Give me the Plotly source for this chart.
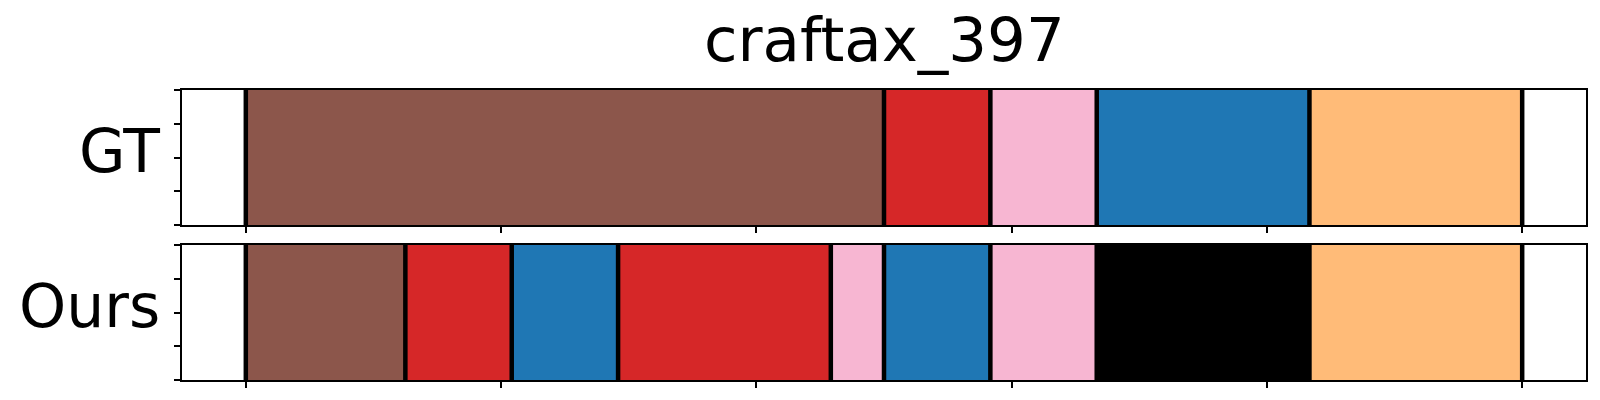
import plotly.graph_objects as go
from plotly.subplots import make_subplots

title = "craftax_397"
row_labels = ["GT", "Ours"]

# segment boundaries (frames) and the class of each segment
gt_bounds = [0, 60, 70, 80, 100, 120]
gt_classes = ["c5", "c3", "c6", "c0", "c1"]
ours_bounds = [0, 15, 25, 35, 55, 60, 70, 80, 100, 120]
ours_classes = ["c5", "c3", "c0", "c3", "c6", "c0", "c6", "bg", "c1"]
x_ticks = [0, 24, 48, 72, 96, 120]
y_ticks = [0, 0.25, 0.5, 0.75, 1.0]

palette = {
    "c0": "#1f77b4",
    "c1": "#ffbb78",
    "c3": "#d62728",
    "c5": "#8c564b",
    "c6": "#f7b6d2",
    "bg": "#000000",
}

# page body has an 8px margin, so the figure is a bit smaller than the window
W, H = 1592, 392
L, R, T, B = 174, 14, 82, 20
gap = 20
plot_h = H - T - B
sub_h = (plot_h - gap) / 2

fig = make_subplots(rows=2, cols=1, shared_xaxes=False, vertical_spacing=gap / plot_h)

rows = [(gt_bounds, gt_classes), (ours_bounds, ours_classes)]
for r, (bounds, classes) in enumerate(rows, start=1):
    for i, cls in enumerate(classes):
        fig.add_trace(
            go.Bar(
                orientation="h",
                y=[0.5],
                x=[bounds[i + 1] - bounds[i]],
                base=[bounds[i]],
                width=[1.0],
                marker=dict(color=palette[cls], line=dict(width=0)),
                showlegend=False,
                hoverinfo="skip",
            ),
            row=r,
            col=1,
        )
    for b in bounds:
        fig.add_trace(
            go.Scatter(
                x=[b, b],
                y=[0, 1],
                mode="lines",
                line=dict(color="black", width=4.5),
                showlegend=False,
                hoverinfo="skip",
            ),
            row=r,
            col=1,
        )

axis_common = dict(
    showline=True,
    mirror=True,
    linecolor="black",
    linewidth=1.5,
    ticks="outside",
    ticklen=6,
    tickwidth=1.5,
    tickcolor="black",
    showticklabels=False,
    showgrid=False,
    zeroline=False,
)
for r in (1, 2):
    fig.update_xaxes(range=[-6, 126], tickmode="array", tickvals=x_ticks, row=r, col=1, **axis_common)
    fig.update_yaxes(range=[0, 1], tickmode="array", tickvals=y_ticks, row=r, col=1, **axis_common)

font = "DejaVu Sans"
annotations = []
y1_center = 1 - (sub_h / 2) / plot_h
y2_center = (sub_h / 2) / plot_h
for lab, yc in zip(row_labels, [y1_center, y2_center]):
    annotations.append(
        dict(
            text=lab,
            xref="paper",
            yref="paper",
            x=0,
            y=yc,
            xanchor="right",
            yanchor="middle",
            xshift=-20,
            yshift=7,
            showarrow=False,
            font=dict(family=font, size=60, color="black"),
        )
    )
annotations.append(
    dict(
        text=title,
        xref="paper",
        yref="paper",
        x=0.5,
        y=1,
        xanchor="center",
        yanchor="bottom",
        yshift=13,
        showarrow=False,
        font=dict(family=font, size=61, color="black"),
    )
)

fig.update_layout(
    width=W,
    height=H,
    margin=dict(l=L, r=R, t=T, b=B),
    paper_bgcolor="white",
    plot_bgcolor="white",
    barmode="overlay",
    annotations=annotations,
    font=dict(family=font),
)

fig.write_html("out.html")
